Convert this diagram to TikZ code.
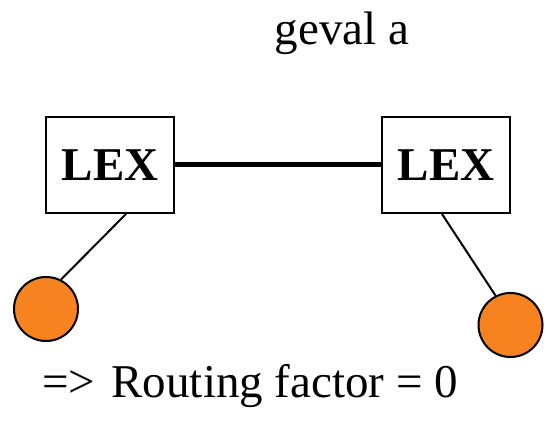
\documentclass[tikz,border=0pt]{standalone}
\usepackage{fontspec}
\setmainfont{Liberation Serif}
\usepackage{xcolor}
\usepackage{tikz}
\usetikzlibrary{positioning}
\definecolor{nodeorange}{RGB}{247,130,32}

\begin{document}
\begin{tikzpicture}[
    x=0.5pt, y=-0.5pt,
    lexbox/.style={draw, line width=1pt, minimum width=64pt, minimum height=48pt,
                   inner sep=0pt, font=\fontsize{23.5}{28}\selectfont\bfseries},
    endnode/.style={circle, draw, line width=1pt, fill=nodeorange,
                    minimum size=32pt, inner sep=0pt},
    bigtext/.style={font=\fontsize{23.5}{28}\selectfont, anchor=base, inner sep=0pt},
    trunk/.style={line width=2.5pt},
    tak/.style={line width=1pt},
]
\useasboundingbox (0,0) rectangle (555,431);
%% -- title --
\node[bigtext](title)at(342,45){geval a};
%% -- exchanges --
\node[lexbox](lexL)at(110,165){LEX};
\node[lexbox](lexR)at(446,165){LEX};
\draw[trunk](lexL.east)--(lexR.west);
%% -- subscribers --
\node[endnode](subL)at(46,309){};
\node[endnode](subR)at(510.5,325){};
\draw[tak]([xshift=8pt]lexL.south)--(subL.63);
\draw[tak]([xshift=-2pt]lexR.south)--(subR.117);
%% -- result --
\node[bigtext](result)at(250,398){=>\hspace{0.35em}Routing factor = 0};
\end{tikzpicture}
\end{document}
